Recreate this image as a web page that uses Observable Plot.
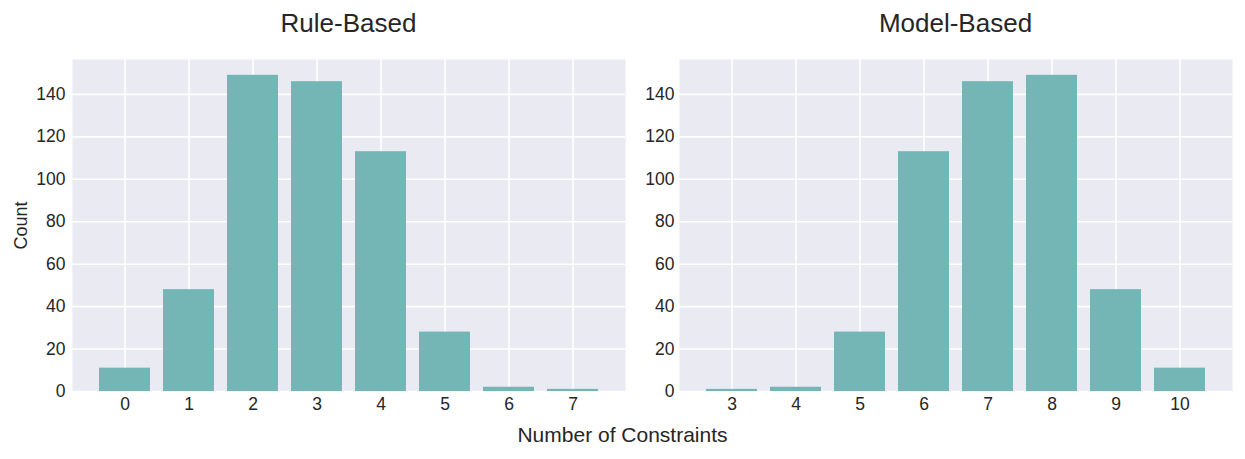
<!DOCTYPE html>
<html><head><meta charset="utf-8">
<script src="https://cdn.jsdelivr.net/npm/d3@7"></script>
<script src="https://cdn.jsdelivr.net/npm/@observablehq/plot@0.6"></script>
<style>
body{margin:0;background:#fff;font-family:"Liberation Sans",Arial,sans-serif;}
#wrap{position:relative;width:1245px;height:459px;overflow:hidden;}
.t{position:absolute;color:#262626;white-space:nowrap;transform:translateX(-50%);line-height:1;}
.p{position:absolute;top:0;}
</style></head><body>
<div id="wrap">
  <div class="t" style="left:348.5px;top:9.7px;font-size:26px">Rule-Based</div>
  <div class="t" style="left:955.5px;top:9.7px;font-size:26px">Model-Based</div>
  <div class="t" style="left:622.5px;top:424px;font-size:21px">Number of Constraints</div>
  <div class="p" id="left" style="left:0px"></div>
  <div class="p" id="right" style="left:640px"></div>
</div>
<script>
const ruleConstraints = [0, 1, 2, 3, 4, 5, 6, 7];
const ruleCounts = [11, 48, 149, 146, 113, 28, 2, 1];
const modelConstraints = [3, 4, 5, 6, 7, 8, 9, 10];
const modelCounts = [1, 2, 28, 113, 146, 149, 48, 11];
const yTicks = [0, 20, 40, 60, 80, 100, 120, 140];
const yMax = 156.45;

const BAR = "#73b6b5";
const BG = "#EAEAF2";
const FONT = "'Liberation Sans', Arial, sans-serif";

function panel(cats, counts, opts) {
  const data = cats.map((c, i) => ({c, n: counts[i]}));
  return Plot.plot({
    width: opts.width, height: 420,
    marginLeft: opts.marginLeft, marginRight: opts.marginRight,
    marginTop: 59, marginBottom: 29,
    style: {background: "transparent", fontFamily: FONT, fontSize: "17.5px", color: "#262626"},
    x: {type: "band", domain: cats, paddingInner: 0.2, paddingOuter: 0.4, label: null},
    y: {domain: [0, yMax], label: null},
    marks: [
      Plot.frame({fill: BG, stroke: null}),
      Plot.gridX({stroke: "white", strokeOpacity: 1, strokeWidth: 1.6}),
      Plot.gridY(yTicks, {stroke: "white", strokeOpacity: 1, strokeWidth: 1.6}),
      Plot.barY(data, {x: "c", y: "n", fill: BAR}),
      Plot.axisX({tickSize: 0, tickPadding: 6, fontSize: 17.5, label: null}),
      Plot.axisY(yTicks, {tickSize: 0, tickPadding: opts.tickPad, fontSize: 17.5, label: null}),
      ...(opts.ylabel ? [Plot.text([opts.ylabel], {
        frameAnchor: "left", dx: -(opts.marginLeft - 26), rotate: -90,
        fontSize: 18, fill: "#262626", textAnchor: "middle", lineAnchor: "bottom"
      })] : [])
    ]
  });
}

document.getElementById("left").appendChild(
  panel(ruleConstraints, ruleCounts, {width: 640, marginLeft: 72, marginRight: 15, tickPad: 7, ylabel: "Count"}));
document.getElementById("right").appendChild(
  panel(modelConstraints, modelCounts, {width: 605, marginLeft: 39, marginRight: 13, tickPad: 5, ylabel: null}));
</script>
</body></html>
